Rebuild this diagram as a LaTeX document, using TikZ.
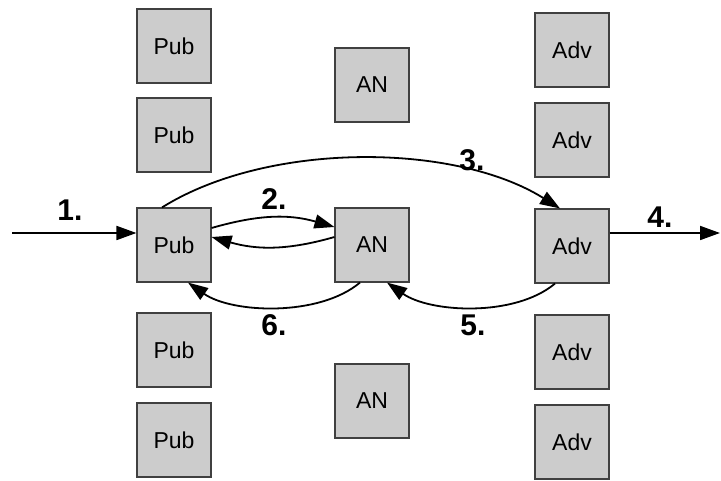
\documentclass[tikz,border=0pt]{standalone}
\usepackage{fontspec}
\setmainfont{Liberation Sans}
\usetikzlibrary{arrows.meta,calc}
\definecolor{boxfill}{HTML}{CCCCCC}
\definecolor{boxline}{HTML}{404040}
\tikzset{
  ent/.style={draw=boxline, line width=1.1pt, fill=boxfill, minimum width=74pt, minimum height=74pt, inner sep=0pt, font=\fontsize{23pt}{27pt}\selectfont},
  arr/.style={line width=1.8pt, -{Triangle[length=20pt,width=14pt]}},
  lbl/.style={font=\fontsize{30pt}{34pt}\selectfont\bfseries, inner sep=0pt}
}
\begin{document}
\begin{tikzpicture}[x=1pt,y=-1pt]
\useasboundingbox (0,0) rectangle (721,481);
% Publishers
\node[ent] (pubA) at (174,46) {Pub};
\node[ent] (pubB) at (174,135) {Pub};
\node[ent] (pubM) at (174,245) {Pub};
\node[ent] (pubD) at (174,350) {Pub};
\node[ent] (pubE) at (174,440) {Pub};
% Ad networks
\node[ent] (anA) at (372,85) {AN};
\node[ent] (anM) at (372,245) {AN};
\node[ent] (anC) at (372,401) {AN};
% Advertisers
\node[ent] (advA) at (572,50) {Adv};
\node[ent] (advB) at (572,140) {Adv};
\node[ent] (advM) at (572,246) {Adv};
\node[ent] (advD) at (572,352) {Adv};
\node[ent] (advE) at (572,442) {Adv};
% connectors
\coordinate (src) at (12,233);
\coordinate (dst) at (720,233);
\draw[arr] (src) -- (src -| pubM.west);
\draw[arr] (advM.east |- dst) -- (dst);
\draw[arr] ($(pubM.east)+(0,-17)$) to[out=16,in=164] ($(anM.west)+(0,-18)$);
\draw[arr] ($(anM.west)+(0,-8)$) to[out=196,in=-16] ($(pubM.east)+(0,-8)$);
\draw[arr] ($(pubM.north)+(-12,0)$) to[out=32,in=148,looseness=0.8] ($(advM.north)+(-12,0)$);
\draw[arr] ($(advM.south)+(-17,0)$) to[out=-140,in=-35,looseness=0.8] ($(anM.south)+(15,0)$);
\draw[arr] ($(anM.south)+(-12,0)$) to[out=-140,in=-35,looseness=0.8] ($(pubM.south)+(14,0)$);
% labels
\node[lbl] (l1) at (70,210) {1.};
\node[lbl] (l2) at (274,199) {2.};
\node[lbl] (l3) at (472,160) {3.};
\node[lbl] (l4) at (660,217) {4.};
\node[lbl] (l5) at (473,325) {5.};
\node[lbl] (l6) at (274,325) {6.};
\end{tikzpicture}
\end{document}
